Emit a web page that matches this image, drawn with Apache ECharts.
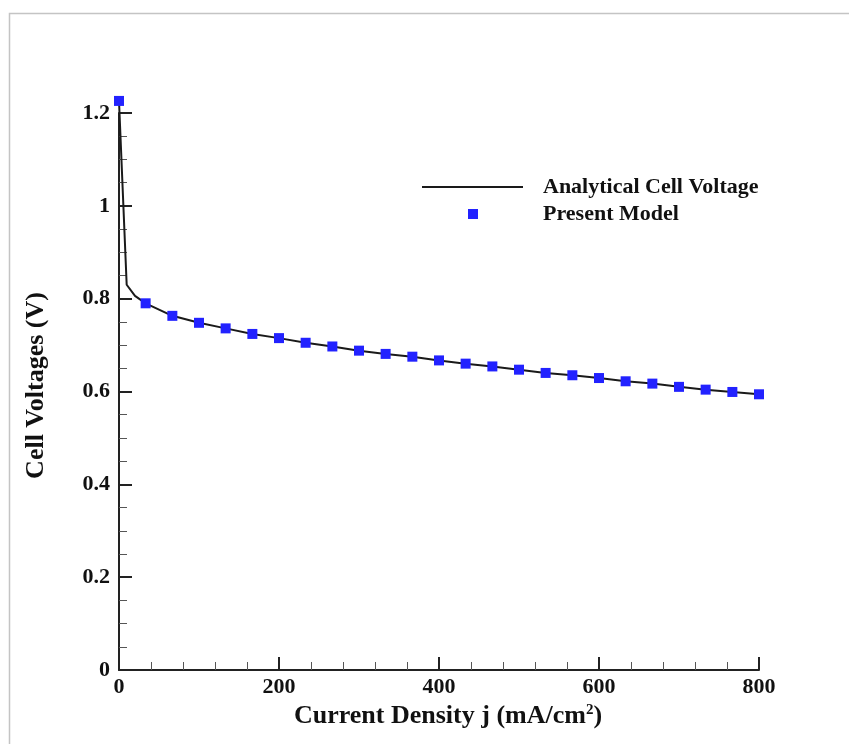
<!DOCTYPE html>
<html>
<head>
<meta charset="utf-8">
<script src="https://cdn.jsdelivr.net/npm/echarts@6/dist/echarts.min.js"></script>
<style>
  html, body { margin: 0; padding: 0; background: #fff; }
  #chart { width: 849px; height: 744px; }
</style>
</head>
<body>
<div id="chart"></div>
<script>
// current density (mA/cm2) of the model points
const jModel = [0, 33.3, 66.7, 100, 133.3, 166.7, 200, 233.3, 266.7, 300, 333.3, 366.7, 400,
  433.3, 466.7, 500, 533.3, 566.7, 600, 633.3, 666.7, 700, 733.3, 766.7, 800];
const vModel = [1.226, 0.790, 0.763, 0.748, 0.736, 0.724, 0.715, 0.705, 0.697, 0.688, 0.681, 0.675, 0.667,
  0.660, 0.654, 0.647, 0.640, 0.635, 0.629, 0.622, 0.617, 0.610, 0.604, 0.599, 0.594];

// analytical curve (extra points at the activation knee)
const jAnalytic = [0, 9.6, 20, 33.3, 66.7, 100, 133.3, 166.7, 200, 233.3, 266.7, 300, 333.3, 366.7, 400,
  433.3, 466.7, 500, 533.3, 566.7, 600, 633.3, 666.7, 700, 733.3, 766.7, 800];
const vAnalytic = [1.226, 0.830, 0.806, 0.790, 0.763, 0.748, 0.736, 0.724, 0.715, 0.705, 0.697, 0.688, 0.681, 0.675, 0.667,
  0.660, 0.654, 0.647, 0.640, 0.635, 0.629, 0.622, 0.617, 0.610, 0.604, 0.599, 0.594];

const FONT = "'Liberation Serif', 'Times New Roman', serif";

// legend icons: a long line, and a small square in the middle of the same width
const LINE_ICON = "path://M0,0L101,0L101,2L0,2Z M116,2L116,2";
const SQUARE_ICON = "path://M0,0L0,0 M46,0L56,0L56,10L46,10Z M116,10L116,10";

const chart = echarts.init(document.getElementById("chart"));

chart.setOption({
  backgroundColor: "#fff",
  animation: false,
  textStyle: { fontFamily: FONT },
  graphic: [{
    type: "rect",
    left: 7, top: 11,
    shape: { width: 900, height: 800 },
    style: { fill: "none", stroke: "#c4c4c4", lineWidth: 1.5 },
    silent: true
  }],
  grid: { left: 119, right: 90, top: 113, bottom: 74 },
  legend: {
    orient: "vertical",
    left: 417, top: 171,
    itemWidth: 116, itemHeight: 10,
    itemGap: 5,
    data: [
      { name: "Analytical Cell Voltage", icon: LINE_ICON },
      { name: "Present Model", icon: SQUARE_ICON }
    ],
    textStyle: { fontFamily: FONT, fontWeight: "bold", fontSize: 22, lineHeight: 22, color: "#111" }
  },
  xAxis: {
    type: "value",
    min: 0, max: 800, interval: 200,
    name: "Current Density j (mA/cm{sup|2})",
    nameLocation: "middle",
    nameGap: 24,
    nameTextStyle: {
      fontFamily: FONT, fontWeight: "bold", fontSize: 26, color: "#111",
      padding: [0, 0, 0, 18],
      rich: { sup: { fontFamily: FONT, fontWeight: "bold", fontSize: 15, color: "#111", verticalAlign: "top", padding: [0, 0, 10, 0] } }
    },
    axisLine: { show: true, lineStyle: { color: "#222", width: 2 } },
    axisTick: { inside: true, length: 13, lineStyle: { color: "#222", width: 2 } },
    minorTick: { show: true, splitNumber: 5, length: 8, lineStyle: { color: "#555", width: 1 } },
    axisLabel: { margin: 6, fontFamily: FONT, fontWeight: "bold", fontSize: 22, color: "#111" },
    splitLine: { show: false }
  },
  yAxis: {
    type: "value",
    min: 0, max: 1.2, interval: 0.2,
    name: "Cell Voltages (V)",
    nameLocation: "middle",
    nameGap: 70,
    nameTextStyle: { fontFamily: FONT, fontWeight: "bold", fontSize: 26, color: "#111", padding: [0, 0, 0, 12] },
    axisLine: { show: true, lineStyle: { color: "#222", width: 2 } },
    axisTick: { inside: true, length: 13, lineStyle: { color: "#222", width: 2 } },
    minorTick: { show: true, splitNumber: 4, length: 8, lineStyle: { color: "#555", width: 1 } },
    axisLabel: {
      margin: 9, fontFamily: FONT, fontWeight: "bold", fontSize: 22, color: "#111",
      formatter: v => (Math.round(v * 10) / 10).toString()
    },
    splitLine: { show: false }
  },
  series: [{
    name: "Analytical Cell Voltage",
    type: "line",
    data: jAnalytic.map((j, i) => [j, vAnalytic[i]]),
    showSymbol: false,
    symbol: "none",
    clip: false,
    lineStyle: { color: "#1a1a1a", width: 2 },
    itemStyle: { color: "#1a1a1a" },
    z: 2
  }, {
    name: "Present Model",
    type: "scatter",
    data: jModel.map((j, i) => [j, vModel[i]]),
    symbol: "rect",
    symbolSize: 10,
    clip: false,
    itemStyle: { color: "#2222ff", opacity: 1 },
    z: 3
  }]
});
</script>
</body>
</html>
